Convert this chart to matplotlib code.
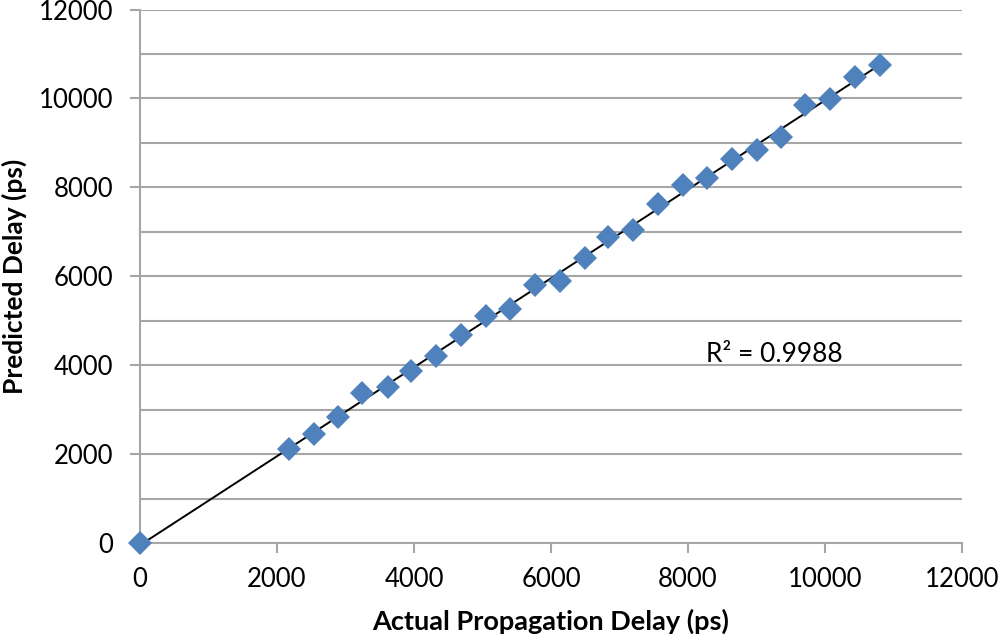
import numpy as np
import matplotlib
matplotlib.use('Agg')
import matplotlib.pyplot as plt
from matplotlib.ticker import MultipleLocator

plt.rcParams['font.family'] = ['Lato', 'DejaVu Sans']

# actual vs predicted propagation delay (ps)
actual = [0, 2175, 2540, 2895, 3236, 3624, 3956, 4321, 4686, 5051, 5401,
          5766, 6131, 6496, 6837, 7202, 7566, 7922, 8281, 8637, 9001,
          9357, 9708, 10073, 10438, 10803]
predicted = [0, 2112, 2442, 2838, 3364, 3499, 3865, 4202, 4674, 5101, 5274,
             5798, 5888, 6412, 6884, 7034, 7633, 8045, 8217, 8644, 8831,
             9130, 9843, 9977, 10479, 10742]
r2_label = 'R² = 0.9988'

x = np.array(actual)
y = np.array(predicted)
slope, icpt = np.polyfit(x, y, 1)

fig = plt.figure(figsize=(10, 6.44), dpi=100)
ax = fig.add_axes([0.140, 0.1568, 0.822, 0.8284])

grid_c = '#a6a6a6'
ax.set_xlim(0, 12000)
ax.set_ylim(0, 12000)
ax.yaxis.set_major_locator(MultipleLocator(2000))
ax.yaxis.set_minor_locator(MultipleLocator(1000))
ax.xaxis.set_major_locator(MultipleLocator(2000))
ax.grid(axis='y', which='both', color=grid_c, linewidth=1.5)
ax.set_axisbelow(True)

xx = np.array([0, x.max()])
ax.plot(xx, slope * xx + icpt, color='black', linewidth=1.4, zorder=2)
ax.plot(x, y, linestyle='none', marker='D', markersize=12.5,
        color='#4f81bd', markeredgewidth=0, zorder=3, clip_on=False)

ax.text(8270, 4230, r2_label, fontsize=19, va='center', ha='left')

for s in ['top', 'right']:
    ax.spines[s].set_visible(False)
for s in ['left', 'bottom']:
    ax.spines[s].set_color(grid_c)
    ax.spines[s].set_linewidth(1.5)
ax.tick_params(which='major', length=7, width=1.5, color=grid_c,
               labelsize=18.5)
ax.tick_params(axis='x', pad=10)
ax.tick_params(axis='y', pad=12)
ax.tick_params(axis='y', which='minor', length=0)

ax.set_xlabel('Actual Propagation Delay (ps)', fontsize=19.5, fontweight='bold',
              labelpad=12)
ax.set_ylabel('Predicted Delay (ps)', fontsize=19, fontweight='bold',
              labelpad=9)

fig.savefig('out.png', dpi=100)
